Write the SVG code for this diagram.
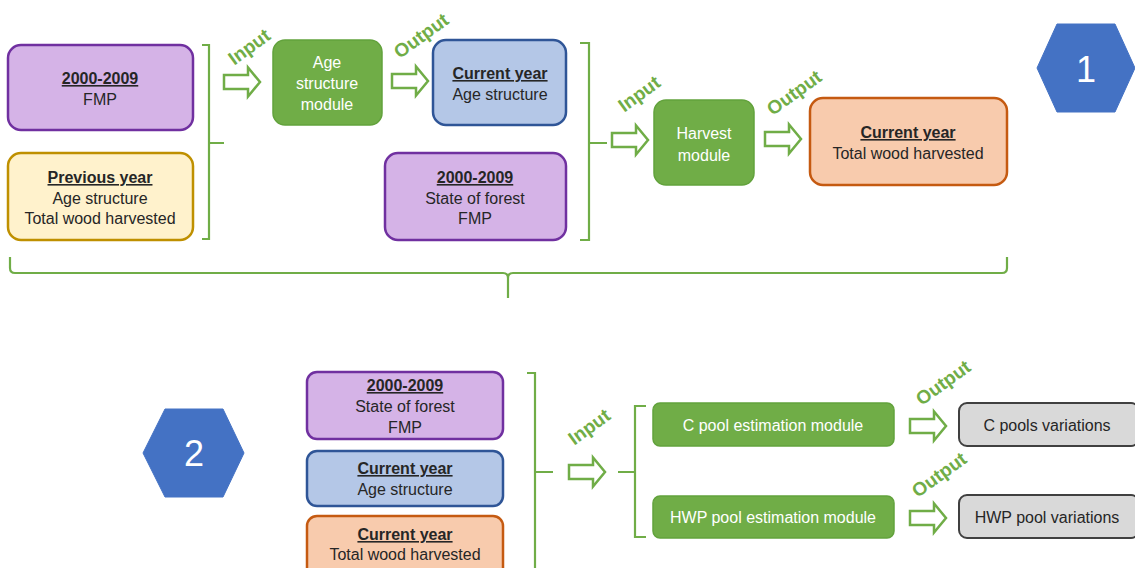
<svg xmlns="http://www.w3.org/2000/svg" width="1135" height="568" viewBox="0 0 1135 568">
<style>
text{font-family:"Liberation Sans",Arial,sans-serif;font-size:16px;text-anchor:middle;fill:#262626}
.h{font-weight:bold;text-decoration:underline}
.w{fill:#ffffff}
.lbl{fill:#70ad47;font-size:19px;font-weight:bold}
.num{fill:#ffffff;font-size:36px}
.purple{fill:#d5b3e7;stroke:#7030a0;stroke-width:2.5}
.yellow{fill:#fff2cc;stroke:#bf9000;stroke-width:2.5}
.blue{fill:#b4c7e7;stroke:#2f5597;stroke-width:2.5}
.orange{fill:#f8cbad;stroke:#c55a11;stroke-width:2.5}
.green{fill:#70ad47;stroke:#62a23c;stroke-width:1.5}
.gray{fill:#d9d9d9;stroke:#404040;stroke-width:2}
.hex{fill:#4472c4;stroke:#4472c4}
.br{fill:none;stroke:#70ad47;stroke-width:2.2}
.arr{fill:#ffffff;stroke:#70ad47;stroke-width:2.5;stroke-linejoin:miter}
</style>
<defs>
<path id="arrow" d="M0,-7 H24 V-14.5 L36,0 L24,14.5 V7 H0 Z"/>
</defs>
<rect width="1135" height="568" fill="#ffffff"/>

<g id="connectors">
<path class="br" d="M202,45 H209 V239 H202 M209,143 H224"/>
<path class="br" d="M580,43 H589 V240 H580 M589,143 H607"/>
<path class="br" d="M10,257 V268 Q10,273 15,273 H503 Q508,273 508,278 V298 M508,278 Q508,273 513,273 H1002 Q1007,273 1007,268 V257"/>
<path class="br" d="M527,373 H535 V575 M535,472 H553"/>
<path class="br" d="M646,406 H635 V537 H646 M618,472 H635"/>
<use href="#arrow" class="arr" x="224" y="82"/>
<use href="#arrow" class="arr" x="392" y="81"/>
<use href="#arrow" class="arr" x="612" y="140"/>
<use href="#arrow" class="arr" x="765" y="139"/>
<use href="#arrow" class="arr" x="569" y="472"/>
<use href="#arrow" class="arr" x="910" y="426"/>
<use href="#arrow" class="arr" x="910" y="518"/>
<text class="lbl" transform="translate(253,52) rotate(-36)">Input</text>
<text class="lbl" transform="translate(425,41) rotate(-36)">Output</text>
<text class="lbl" transform="translate(643,99) rotate(-36)">Input</text>
<text class="lbl" transform="translate(798,98) rotate(-36)">Output</text>
<text class="lbl" transform="translate(593,432) rotate(-36)">Input</text>
<text class="lbl" transform="translate(947,388) rotate(-36)">Output</text>
<text class="lbl" transform="translate(943,480) rotate(-36)">Output</text>
</g>

<g id="fmp">
<rect class="purple" x="8" y="45" width="185" height="85" rx="13"/>
<text class="h" x="100" y="84">2000-2009</text>
<text x="100" y="105">FMP</text>
</g>
<g id="previous-year">
<rect class="yellow" x="8" y="153" width="185" height="87" rx="13"/>
<text class="h" x="100" y="183">Previous year</text>
<text x="100" y="204">Age structure</text>
<text x="100" y="224">Total wood harvested</text>
</g>
<g id="age-module">
<rect class="green" x="273" y="40" width="109" height="85" rx="12"/>
<text class="w" x="327" y="68">Age</text>
<text class="w" x="327" y="89">structure</text>
<text class="w" x="327" y="110">module</text>
</g>
<g id="current-age">
<rect class="blue" x="433" y="40" width="133" height="85" rx="13"/>
<text class="h" x="500" y="79">Current year</text>
<text x="500" y="100">Age structure</text>
</g>
<g id="state-forest-1">
<rect class="purple" x="385" y="153" width="181" height="87" rx="13"/>
<text class="h" x="475" y="183">2000-2009</text>
<text x="475" y="204">State of forest</text>
<text x="475" y="224">FMP</text>
</g>
<g id="harvest-module">
<rect class="green" x="654" y="100" width="100" height="85" rx="12"/>
<text class="w" x="704" y="139">Harvest</text>
<text class="w" x="704" y="161">module</text>
</g>
<g id="current-harvest">
<rect class="orange" x="810" y="98" width="197" height="87" rx="13"/>
<text class="h" x="908" y="138">Current year</text>
<text x="908" y="159">Total wood harvested</text>
</g>
<g id="hex1">
<polygon class="hex" points="1057,24 1115,24 1135,68 1115,112 1057,112 1037,68"/>
<text class="num" x="1086" y="82">1</text>
</g>
<g id="hex2">
<polygon class="hex" points="165,409 223,409 244,453 223,497 165,497 143,453"/>
<text class="num" x="194" y="466">2</text>
</g>
<g id="state-forest-2">
<rect class="purple" x="307" y="372" width="196" height="67" rx="10"/>
<text class="h" x="405" y="391">2000-2009</text>
<text x="405" y="412">State of forest</text>
<text x="405" y="433">FMP</text>
</g>
<g id="current-age-2">
<rect class="blue" x="307" y="451" width="196" height="55" rx="10"/>
<text class="h" x="405" y="474">Current year</text>
<text x="405" y="495">Age structure</text>
</g>
<g id="current-harvest-2">
<rect class="orange" x="307" y="516" width="196" height="62" rx="10"/>
<text class="h" x="405" y="540">Current year</text>
<text x="405" y="560">Total wood harvested</text>
</g>
<g id="c-pool-module">
<rect class="green" x="653" y="403" width="241" height="43" rx="7"/>
<text class="w" x="773" y="431">C pool estimation module</text>
</g>
<g id="hwp-pool-module">
<rect class="green" x="653" y="496" width="241" height="42" rx="7"/>
<text class="w" x="773" y="523">HWP pool estimation module</text>
</g>
<g id="c-pools-variations">
<rect class="gray" x="959" y="403" width="180" height="43" rx="8"/>
<text x="1047" y="431">C pools variations</text>
</g>
<g id="hwp-pool-variations">
<rect class="gray" x="959" y="495" width="180" height="43" rx="8"/>
<text x="1047" y="523">HWP pool variations</text>
</g>
</svg>
